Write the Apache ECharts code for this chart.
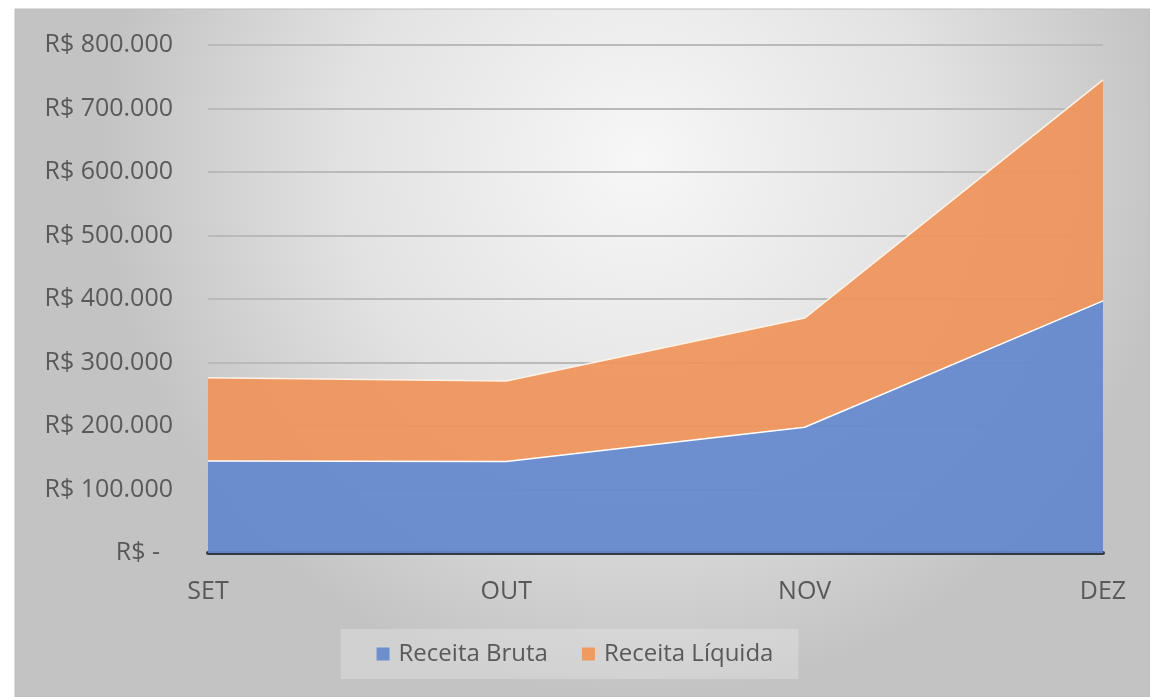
<!DOCTYPE html>
<html>
<head>
<meta charset="utf-8">
<script src="https://cdn.jsdelivr.net/npm/echarts@6/dist/echarts.min.js"></script>
<style>
html,body{margin:0;padding:0;background:#fff;}
#c{width:1150px;height:697px;}
</style>
</head>
<body>
<div id="c"></div>
<script>
const categories = ['SET', 'OUT', 'NOV', 'DEZ'];
const receitaBruta = [145000, 144000, 198000, 397000];
const receitaLiquida = [131000, 127000, 172000, 348000];
const yTicks = { min: 0, max: 800000, interval: 100000 };

function fmt(v) {
  if (v === 0) return 'R$ -  ';
  return 'R$ ' + v.toLocaleString('de-DE');
}

const chart = echarts.init(document.getElementById('c'));
const font = '"Open Sans", "Noto Sans", sans-serif';
chart.setOption({
  animation: false,
  backgroundColor: 'transparent',
  graphic: [{
    type: 'rect',
    z: -10,
    silent: true,
    shape: { x: 15, y: 9, width: 1135, height: 688 },
    style: {
      fill: {
        type: 'radial', x: 0.55, y: 0.22, r: 0.78,
        colorStops: [
          { offset: 0, color: '#f7f7f7' },
          { offset: 0.55, color: '#e2e2e2' },
          { offset: 1, color: '#c3c3c3' }
        ]
      },
      stroke: '#bdbdbd',
      lineWidth: 1
    }
  }],
  grid: { left: 208, right: 47, top: 45, bottom: 144, containLabel: false },
  legend: {
    data: ['Receita Bruta', 'Receita Líquida'],
    left: 'center',
    top: 629,
    padding: [13, 25, 13, 36],
    backgroundColor: 'rgba(235,235,235,0.35)',
    itemWidth: 13,
    itemHeight: 13,
    itemGap: 34,
    icon: 'rect',
    textStyle: { fontFamily: font, fontSize: 24, color: '#595959', padding: [0, 0, 0, 4] }
  },
  xAxis: {
    type: 'category',
    data: categories,
    boundaryGap: false,
    axisLine: { show: true, lineStyle: { color: '#333c40', width: 4 } },
    axisTick: { show: false },
    axisLabel: { fontFamily: font, fontSize: 25, color: '#595959', margin: 26 },
    splitLine: { show: false }
  },
  yAxis: {
    type: 'value',
    min: yTicks.min,
    max: yTicks.max,
    interval: yTicks.interval,
    axisLine: { show: false },
    axisTick: { show: false },
    axisLabel: { fontFamily: font, fontSize: 25, color: '#595959', margin: 35, formatter: fmt },
    splitLine: { show: true, lineStyle: { color: '#bababa', width: 2 } }
  },
  series: [
    {
      name: 'Receita Bruta',
      type: 'line',
      stack: 'total',
      data: receitaBruta,
      symbol: 'none',
      itemStyle: { color: '#6e8fce' },
      lineStyle: { color: '#ffffff', width: 1.5 },
      areaStyle: { color: '#6488cd', opacity: 0.92 },
      z: 3
    },
    {
      name: 'Receita Líquida',
      type: 'line',
      stack: 'total',
      data: receitaLiquida,
      symbol: 'none',
      itemStyle: { color: '#ef9a5f' },
      lineStyle: { color: '#fff3e8', width: 1.5 },
      areaStyle: { color: '#f0945a', opacity: 0.92 },
      z: 2
    }
  ]
});
</script>
</body>
</html>
